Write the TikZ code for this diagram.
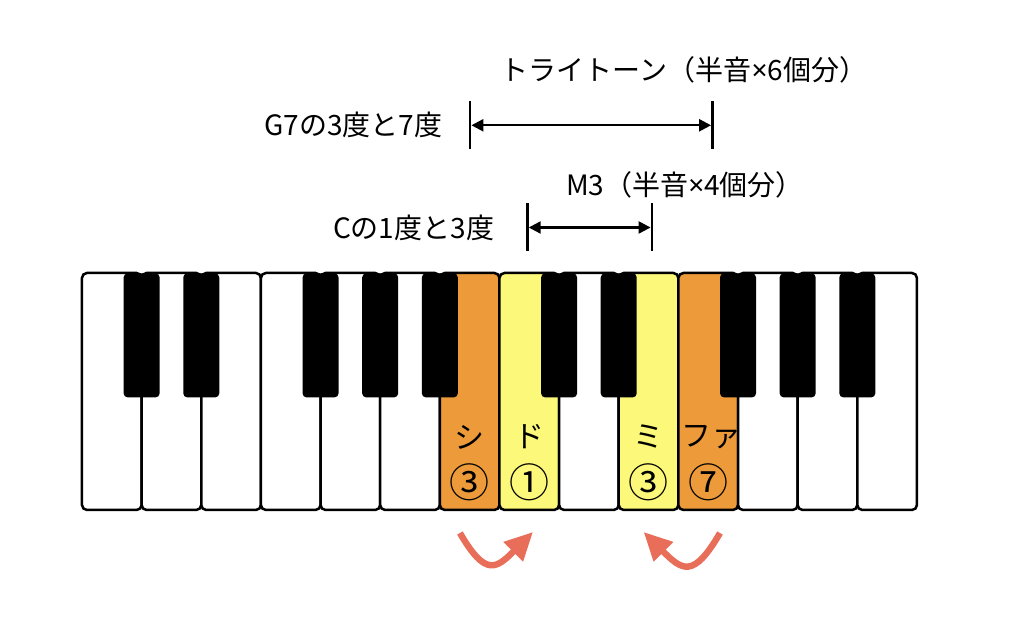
\documentclass[tikz,border=0pt]{standalone}
\usepackage{fontspec}
\setmainfont{Noto Sans CJK JP}
\newfontfamily\latinfont{Noto Sans}
\usetikzlibrary{arrows.meta, positioning}
\definecolor{orangekey}{RGB}{236,154,58}
\definecolor{yellowkey}{RGB}{251,248,122}
\definecolor{turnred}{RGB}{233,110,90}
\newcommand{\kakeru}{{\latinfont ×}}

\begin{document}
\begin{tikzpicture}[x=0.5pt, y=0.5pt, font=\fontsize{14pt}{16pt}\selectfont, node distance={29.82pt},
  wkey/.style = {draw, fill=white, line width=1.25pt, rounded corners=2.5pt, minimum width=29.82pt, minimum height=118.5pt, inner sep=0pt, outer sep=0pt},
  bkey/.style = {fill=black, rounded corners=2pt, minimum width=18pt, minimum height=62pt, inner sep=0pt, anchor=north},
  barline/.style = {fill=black, minimum width=1.4pt, minimum height=24pt, inner sep=0pt, outer sep=0pt},
  interval/.style = {{Triangle[length=6pt,width=6pt]}-{Triangle[length=6pt,width=6pt]}, line width=1.15pt},
  turn/.style = {-{Triangle[length=14pt,width=13pt]}, line width=3.2pt, color=turnred, looseness=1.8},
  txt/.style = {inner sep=0pt},
  keyname/.style = {inner sep=0pt, font=\fontsize{15pt}{17pt}\selectfont},
  finger/.style = {inner sep=0pt, font=\fontsize{20pt}{22pt}\selectfont}]
                \useasboundingbox (0,0) rectangle (1030,620);
                % white keys
                \node[wkey] (w0) at (111.8,228.5) {};
                \node[wkey] (w1) [right of=w0] {};
                \node[wkey] (w2) [right of=w1] {};
                \node[wkey] (w3) [right of=w2] {};
                \node[wkey] (w4) [right of=w3] {};
                \node[wkey] (w5) [right of=w4] {};
                \node[wkey, fill=orangekey] (w6) [right of=w5] {};
                \node[wkey, fill=yellowkey] (w7) [right of=w6] {};
                \node[wkey] (w8) [right of=w7] {};
                \node[wkey, fill=yellowkey] (w9) [right of=w8] {};
                \node[wkey, fill=orangekey] (w10) [right of=w9] {};
                \node[wkey] (w11) [right of=w10] {};
                \node[wkey] (w12) [right of=w11] {};
                \node[wkey] (w13) [right of=w12] {};
                % black keys
                \node[bkey] (b0) at (w0.north east) {};
                \node[bkey] (b1) at (w1.north east) {};
                \node[bkey] (b2) at (w3.north east) {};
                \node[bkey] (b3) at (w4.north east) {};
                \node[bkey] (b4) at (w5.north east) {};
                \node[bkey] (b5) at (w7.north east) {};
                \node[bkey] (b6) at (w8.north east) {};
                \node[bkey] (b7) at (w10.north east) {};
                \node[bkey] (b8) at (w11.north east) {};
                \node[bkey] (b9) at (w12.north east) {};
                % key names and fingers
                \node[keyname] (si) at ([yshift=-22.75pt]w6.center) {シ};
                \node[keyname] (do) at ([yshift=-22.75pt]w7.center) {ド};
                \node[keyname] (mi) at ([yshift=-22.75pt]w9.center) {ミ};
                \node[keyname] (fa) at ([xshift=1.5pt, yshift=-22.75pt]w10.center) {ファ};
                \node[finger] (si3) at ([yshift=-45.5pt]w6.center) {③};
                \node[finger] (do1) at ([yshift=-45.5pt]w7.center) {①};
                \node[finger] (mi3) at ([yshift=-45.5pt]w9.center) {③};
                \node[finger] (fa7) at ([yshift=-45.5pt]w10.center) {⑦};
                % intervals
                \node[barline] (t1) at (470,494.7) {};
                \node[barline] (t2) at (712.5,494.7) {};
                \node[barline] (m1) at (527.3,392.5) {};
                \node[barline] (m2) at (652,392.5) {};
                \draw[interval] (t1) -- (t2);
                \draw[interval] (m1) -- (m2);
                \node[txt] (tri) at (684,550) {トライトーン（半音\kakeru 6個分）};
                \node[txt] (g7) [left=13pt of t1] {G7の3度と7度};
                \node[txt] (m3) at (685,435) {M3（半音\kakeru 4個分）};
                \node[txt] (c) [left=15.75pt of m1] {Cの1度と3度};
                % resolution
                \draw[turn] ([xshift=-4.85pt, yshift=-11.5pt]w6.south) to[out=-60, in=-135] ([xshift=1.85pt, yshift=-11pt]w7.south);
                \draw[turn] ([xshift=5.9pt, yshift=-11.5pt]w10.south) to[out=-120, in=-45] ([xshift=-2.45pt, yshift=-11pt]w9.south);
            \end{tikzpicture}
\end{document}
